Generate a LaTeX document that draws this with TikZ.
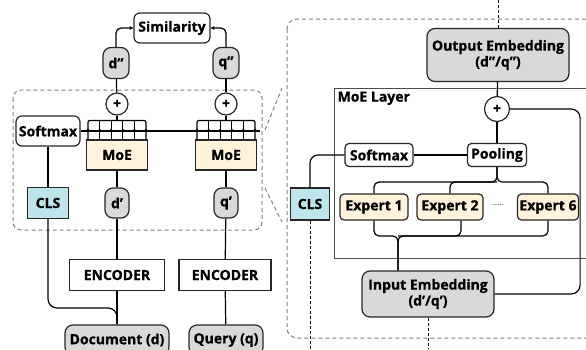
\documentclass[tikz,border=0pt]{standalone}
\usepackage{fontspec}
\setmainfont{Open Sans}[BoldFeatures={FakeBold=0.8}]
\usetikzlibrary{arrows.meta, positioning}

\definecolor{embgray}{HTML}{D9D9D9}
\definecolor{moecream}{HTML}{FFF4DB}
\definecolor{clscyan}{HTML}{BDE5EB}
\definecolor{framegray}{HTML}{808080}

\begin{document}
\begin{tikzpicture}[x=1pt, y=-1pt, font=\fontsize{14}{16}\selectfont\bfseries, line width=1.2pt]
	\tikzstyle{plain} = [rectangle, draw=black!85, fill=white, inner sep=2pt, 
	text centered]
	\tikzstyle{roundbox} = [plain, rounded corners=6pt]
	\tikzstyle{embed} = [plain, fill=embgray, rounded corners=8pt, align=center]
	\tikzstyle{moe} = [plain, fill=moecream, minimum width=61pt, minimum height=30pt]
	\tikzstyle{expert} = [plain, fill=moecream, rounded corners=4pt, minimum height=26pt]
	\tikzstyle{cls} = [plain, fill=clscyan, minimum height=31pt]
	\tikzstyle{plus} = [circle, draw=black!85, fill=white, inner sep=0pt, minimum size=22pt]
	\tikzstyle{arrow} = [-{Stealth[length=4pt, width=4pt]}]
	\tikzstyle{zoomline} = [draw=framegray, dashed, dash pattern=on 4pt off 3pt, line width=1pt]
	\tikzstyle{dashline} = [dashed, dash pattern=on 3pt off 2pt, line width=0.9pt]

	\useasboundingbox (0,0) rectangle (586,349);
	\clip (0,0) rectangle (586,349);

	% left: document and query towers
	\draw [zoomline, rounded corners=8pt] (13,90) rectangle (262,230);
	\node (similarity) [roundbox, minimum width=76pt, minimum height=30pt] at (172,28) {Similarity};
	\node (dOut) [embed, minimum width=26pt, minimum height=31pt] at (116,63) {d”};
	\node (qOut) [embed, minimum width=26pt, minimum height=31pt] at (226,63) {q”};
	\node (plusD) [plus] at (117,104) {+};
	\node (plusQ) [plus] at (226,104) {+};
	\node (softmaxL) [roundbox, minimum width=64pt, minimum height=30pt] at (48,131) {Softmax};
	\node (moeD) [moe] at (117,155) {MoE};
	\node (moeQ) [moe] at (226,155) {MoE};
	\node (clsL) [cls, minimum width=41pt] at (48,203) {CLS};
	\node (dIn) [embed, minimum width=24pt, minimum height=30pt] at (117,203) {d’};
	\node (qIn) [embed, minimum width=24pt, minimum height=30pt] at (226,203) {q’};
	\node (encD) [plain, minimum width=95pt, minimum height=31pt] at (117,275) {ENCODER};
	\node (encQ) [plain, minimum width=92pt, minimum height=31pt] at (225,275) {ENCODER};
	\node (docu) [embed, minimum width=104pt, minimum height=30pt] at (117,340) {Document (d)};
	\node (query) [embed, minimum width=74pt, minimum height=30pt] at (226,340) {Query (q)};
	\coordinate (clsTurn) at (0,308);

	\draw [arrow, rounded corners=5pt] (dOut.north) |- (similarity.west);
	\draw [arrow, rounded corners=5pt] (qOut.north) |- (similarity.east);
	\draw (dOut) -- (plusD);
	\draw (qOut) -- (plusQ);
	% expert gates above each MoE block
	\draw (softmaxL.east) -- ([xshift=3pt]moeQ.east |- softmaxL.east);
	\foreach \m in {moeD, moeQ} {
		\draw [rounded corners=2pt] ([xshift=-29pt]\m.north) -- ++(0,-19) -- ++(58,0) -- ++(0,19);
		\foreach \i in {1,...,4}
			\draw ([xshift={\i*11.6pt-29pt}]\m.north) -- ++(0,-19);
		\foreach \i in {0,...,5}
			\fill ([xshift={\i*11.6pt-29pt}, yshift=9pt]\m.north) circle (1.7pt);
	}
	\draw (plusD) -- ([yshift=19pt]moeD.north);
	\draw (plusQ) -- ([yshift=19pt]moeQ.north);
	\draw (moeD) -- (dIn);
	\draw (moeQ) -- (qIn);
	\draw (dIn) -- (encD);
	\draw (qIn) -- (encQ);
	\draw (encD) -- (docu);
	\draw (encQ) -- (query);
	\draw (softmaxL) -- (clsL);
	\draw [rounded corners=9pt] (clsL.south) |- (docu.north |- clsTurn) -- (docu.north);

	% zoom lines
	\draw [zoomline] (265,130) -- (282,88);
	\draw [zoomline] (265,188) -- (282,222);

	% right: inside the MoE layer
	\draw [zoomline, rounded corners=10pt] (287,19) rectangle (640,338);
	\draw [draw=black!70, line width=1pt] (334,88) rectangle (640,258);
	\node (moeLabel) [anchor=north west, inner sep=1pt] at (336,90) {MoE Layer};
	\node (outEmb) [embed, minimum width=142pt, minimum height=53pt] at (498,55) {Output Embedding\\(d”/q”)};
	\node (plusR) [plus, minimum size=25pt] at (497,109) {+};
	\node (pooling) [roundbox, rounded corners=4pt, minimum width=59pt, minimum height=23pt] at (497,155) {Pooling};
	\node (softmaxR) [roundbox, rounded corners=4pt, minimum width=68pt, minimum height=23pt] at (379,155) {Softmax};
	\node (clsR) [cls, minimum width=39pt, minimum height=32pt] at (310,204) {CLS};
	\node (exp1) [expert, minimum width=68pt] at (374,207) {Expert 1};
	\node (exp2) [expert, minimum width=66pt] at (450,207) {Expert 2};
	\node (expDots) [font=\fontsize{7}{8}\selectfont] at (498,205) {......};
	\node (exp6) [expert, minimum width=61pt] at (548,207) {Expert 6};
	\node (inEmb) [embed, minimum width=132pt, minimum height=46pt] at (428,294) {Input Embedding\\(d’/q’)};
	\coordinate (topEdge) at (0,0);
	\coordinate (bottomEdge) at (0,349);
	\coordinate (topBar) at (0,182);
	\coordinate (botBar) at (0,236);
	\coordinate (inTop) at ([xshift=-30pt]inEmb.north);

	\draw [dashline] (outEmb.north) -- (outEmb.north |- topEdge);
	\draw (outEmb) -- (plusR);
	\draw (plusR) -- (pooling);
	\draw [rounded corners=9pt] (plusR.east) -- ++(70,0) |- (inEmb.east);
	\draw (softmaxR) -- (pooling);
	\draw [rounded corners=8pt] (softmaxR.west) -| (clsR.north);
	\draw [dashline] (clsR.south) -- (clsR.south |- bottomEdge);
	% pooling over the experts
	\draw [rounded corners=5pt] (pooling.south) |- (exp1.north |- topBar) -- (exp1.north);
	\draw [rounded corners=5pt] (pooling.south) |- (exp6.north |- topBar) -- (exp6.north);
	\draw [rounded corners=5pt] (exp2.north) |- (pooling.south |- topBar);
	% input embedding into the experts
	\draw [rounded corners=5pt] (inTop) |- (exp1.south |- botBar) -- (exp1.south);
	\draw [rounded corners=5pt] (inTop) |- (exp6.south |- botBar) -- (exp6.south);
	\draw [rounded corners=5pt] ([xshift=11pt]exp2.south) |- (inTop |- botBar);
	\draw [dashline] (inEmb.south) -- (inEmb.south |- bottomEdge);
\end{tikzpicture}
\end{document}
